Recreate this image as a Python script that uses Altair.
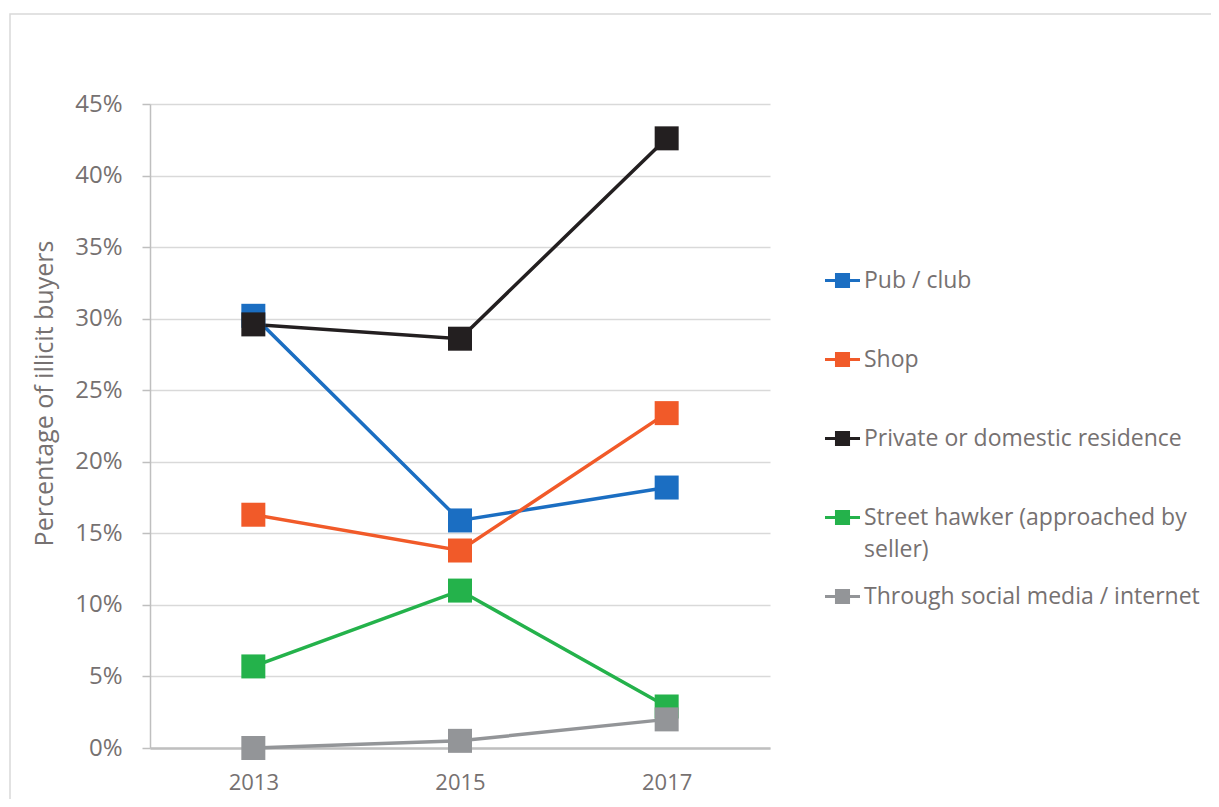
import altair as alt
import pandas as pd

years = ["2013", "2015", "2017"]
series_names = [
    "Pub / club",
    "Shop",
    "Private or domestic residence",
    "Street hawker (approached by seller)",
    "Through social media / internet",
]
pub_club = [30.2, 15.9, 18.2]
shop = [16.3, 13.8, 23.4]
private_res = [29.6, 28.6, 42.6]
street_hawker = [5.7, 11.0, 2.9]
social_media = [0.0, 0.5, 2.0]
series_values = [pub_club, shop, private_res, street_hawker, social_media]
colors = ["#1b6ec2", "#f15a29", "#231f20", "#24b24b", "#939598"]
y_ticks = [0, 5, 10, 15, 20, 25, 30, 35, 40, 45]

rows = []
for si, (name, vals) in enumerate(zip(series_names, series_values)):
    for yr, v in zip(years, vals):
        rows.append({"series": name, "year": yr, "value": v, "order": si})
df = pd.DataFrame(rows)

FONT = "Open Sans"
TXT = "#767171"

x_enc = alt.X(
    "year:O",
    scale=alt.Scale(type="point", padding=0.5),
    axis=alt.Axis(
        title=None, labelAngle=0, ticks=False, labelPadding=24,
        labelFont=FONT, labelFontSize=22, labelColor=TXT,
        domainColor="#bfbfbf", domainWidth=2.5, grid=False,
    ),
)
y_enc = alt.Y(
    "value:Q",
    scale=alt.Scale(domain=[0, 45], nice=False, zero=True),
    axis=alt.Axis(
        values=y_ticks, labelExpr="datum.value + '%'",
        title="Percentage of illicit buyers",
        titleFont=FONT, titleFontSize=25, titleColor=TXT, titleFontWeight="normal",
        titleX=-106, titleY=289, titleAngle=-90, titleAlign="center", titleBaseline="middle",
        labelFont=FONT, labelFontSize=24, labelColor=TXT, labelPadding=20,
        tickSize=8, tickColor="#bfbfbf", tickWidth=1.5,
        domainColor="#bfbfbf", domainWidth=1.5,
        grid=True, gridColor="#d9d9d9", gridWidth=1.5,
    ),
)
color_scale = alt.Scale(domain=series_names, range=colors)

legend_path = "M-1,-0.086H1V0.086H-1Z M-0.43,-0.43H0.43V0.43H-0.43Z"
legend = alt.Legend(
    title=None, orient="none", legendX=675, legendY=159,
    symbolType=legend_path, symbolSize=1225, symbolStrokeWidth=0,
    symbolOpacity=1,
    labelFont=FONT, labelFontSize=23, labelColor=TXT, labelLimit=500,
    labelOffset=4, rowPadding=17,
    labelExpr="datum.label == 'Street hawker (approached by seller)' ? ['Street hawker (approached by', 'seller)'] : [datum.label, ' ']",
)
color_enc = alt.Color("series:N", scale=color_scale, sort=series_names, legend=legend)

lines = alt.Chart(df).mark_line(strokeWidth=3.5).encode(
    x=x_enc, y=y_enc,
    color=color_enc,
    order=alt.Order("order:Q"),
    detail="series:N",
)

points = alt.Chart(df).mark_point(shape="square", filled=True, size=576, opacity=1).encode(
    x=x_enc, y=y_enc,
    color=color_enc,
    order=alt.Order("order:Q"),
)

frame = alt.Chart(alt.Data(values=[{"a": 1}])).mark_rect(
    fill=None, stroke="#d9d9d9", strokeWidth=1.5
).encode(
    x=alt.value(-140), x2=alt.value(1090), y=alt.value(-90), y2=alt.value(740)
)

chart = alt.layer(frame, lines, points).properties(
    width=620, height=644,
    autosize=alt.AutoSizeParams(type="none"),
    padding={"left": 142, "top": 96, "right": 441, "bottom": 51},
).configure(
    background="white",
    style={"guide-label": {"lineHeight": 32}},
).configure_view(stroke=None)

chart.save("out.html", embed_options={"renderer": "svg", "actions": False})
